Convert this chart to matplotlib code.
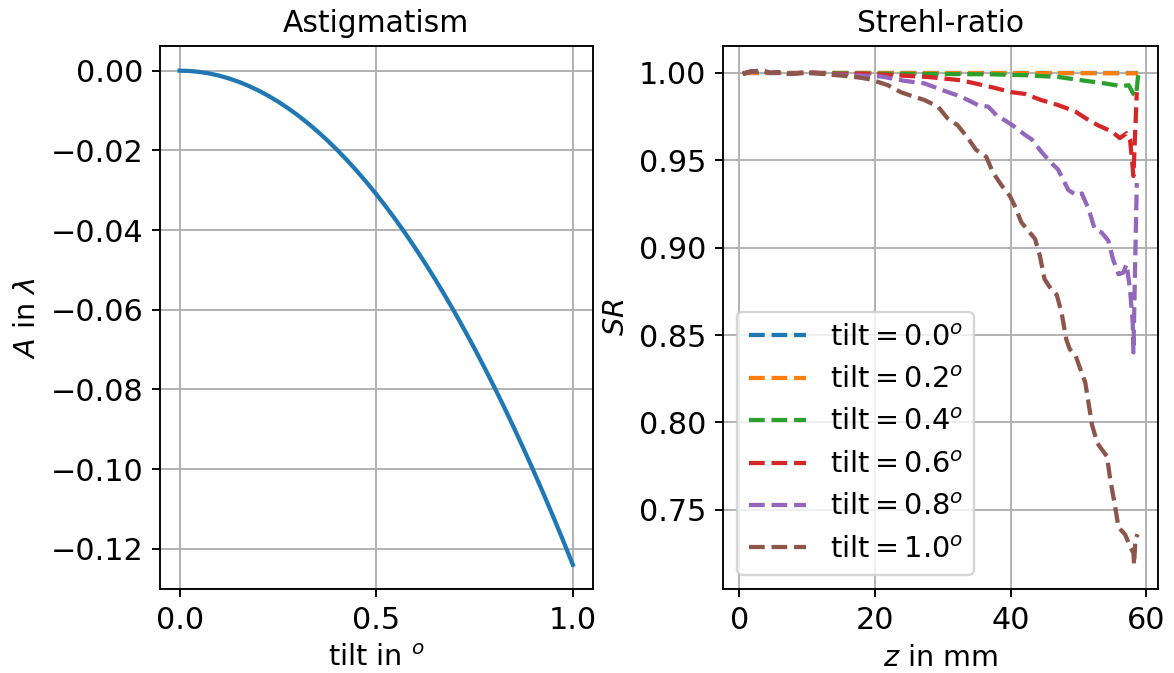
import matplotlib
matplotlib.use('Agg')
import matplotlib.pyplot as plt

# astigmatism vs tilt
tilt = [0.0, 0.025, 0.05, 0.075, 0.1, 0.125, 0.15, 0.175, 0.2, 0.225, 0.25,
        0.275, 0.3, 0.325, 0.35, 0.375, 0.4, 0.425, 0.45, 0.475, 0.5,
        0.525, 0.55, 0.575, 0.6, 0.625, 0.65, 0.675, 0.7, 0.725, 0.75,
        0.775, 0.8, 0.825, 0.85, 0.875, 0.9, 0.925, 0.95, 0.975, 1.0]
astig = [0.0, -0.00008, -0.00031, -0.0007, -0.00124, -0.00194, -0.00279,
         -0.0038, -0.00496, -0.00628, -0.00775, -0.00938, -0.01116, -0.0131,
         -0.01519, -0.01744, -0.01984, -0.0224, -0.02511, -0.02798, -0.031,
         -0.03418, -0.03751, -0.041, -0.04464, -0.04844, -0.05239, -0.0565,
         -0.06076, -0.06518, -0.06975, -0.07448, -0.07936, -0.0844, -0.08959,
         -0.09494, -0.10044, -0.1061, -0.11191, -0.11788, -0.124]

# strehl ratio vs z, one curve per tilt
z_00 = [0.5, 10, 20, 30, 40, 50, 58.8]
sr_00 = [1.0, 1.0, 1.0, 1.0, 1.0, 1.0, 1.0]

z_02 = [0.5, 10, 20, 30, 40, 50, 58.8]
sr_02 = [1.0, 1.0, 1.0, 0.9999, 0.9999, 0.9999, 0.9998]

z_04 = [0.5, 1.6, 3.4, 4.6, 6.1, 7.5, 9.0, 11.0, 13.0, 15.0, 20.0, 30.0,
        37.1, 42.1, 47.0, 51.0, 53.9, 56.4, 57.4, 58.1, 58.5, 58.8]
sr_04 = [0.9995, 1.0006, 1.0012, 1.0, 1.0004, 0.9996, 1.0, 1.0, 0.9998,
         0.9998, 0.9996, 0.9994, 0.9992, 0.9987, 0.9977, 0.9955, 0.994,
         0.9924, 0.993, 0.988, 0.987, 0.9987]

z_06 = [0.5, 1.6, 3.4, 4.6, 6.1, 7.5, 9.0, 11.0, 13.0, 15.0, 17.9, 22.9,
        27.8, 32.7, 37.6, 40.1, 42.1, 44.5, 47.0, 49.5, 51.5, 52.9, 54.9,
        56.1, 57.1, 57.6, 57.9, 58.1, 58.6]
sr_06 = [0.9995, 1.0007, 1.0012, 1.0, 1.0004, 0.9995, 1.0, 1.0002, 0.9996,
         0.9994, 0.9996, 0.9987, 0.9977, 0.9958, 0.9915, 0.989, 0.988,
         0.9845, 0.9816, 0.978, 0.973, 0.970, 0.9665, 0.9627, 0.9655,
         0.962, 0.950, 0.941, 0.989]

z_08 = [0.5, 1.6, 3.4, 4.6, 6.1, 7.5, 9.0, 11.0, 13.0, 15.0, 17.9, 20.9,
        24.3, 27.3, 30.2, 32.7, 35.2, 36.7, 38.1, 39.1, 40.3, 42.1, 43.1,
        44.5, 46.0, 47.0, 48.5, 49.7, 50.5, 51.5, 52.4, 53.4, 54.4, 55.1,
        55.9, 56.6, 57.1, 57.6, 58.0, 58.1, 58.6]
sr_08 = [0.9994, 1.0008, 1.0013, 1.0, 1.0004, 0.9994, 1.0, 1.0, 0.9993,
         0.999, 0.9985, 0.998, 0.9955, 0.994, 0.9898, 0.9864, 0.9816,
         0.9807, 0.975, 0.973, 0.970, 0.9646, 0.962, 0.955, 0.9485, 0.9447,
         0.933, 0.930, 0.931, 0.922, 0.9106, 0.9087, 0.904, 0.8933, 0.8848,
         0.8857, 0.8905, 0.876, 0.857, 0.840, 0.937]

z_10 = [0.5, 1.6, 3.4, 4.6, 6.1, 7.5, 9.0, 11.0, 13.0, 15.0, 17.4, 18.9,
        19.4, 21.9, 23.8, 25.3, 27.3, 29.3, 30.7, 32.2, 33.7, 34.9, 36.4,
        37.4, 38.6, 39.9, 40.6, 41.6, 42.6, 43.6, 44.3, 45.0, 46.0, 46.8,
        47.5, 48.2, 48.7, 49.6, 50.1, 51.0, 51.4, 52.0, 52.8, 54.2, 54.7,
        55.4, 55.9, 56.9, 57.6, 58.1, 58.2, 58.4, 58.7]
sr_10 = [0.9994, 1.0008, 1.0013, 1.0, 1.0004, 0.9994, 1.0, 0.9999, 0.9992,
         0.9985, 0.9975, 0.9966, 0.9962, 0.993, 0.989, 0.987, 0.9845,
         0.9807, 0.974, 0.970, 0.9627, 0.956, 0.952, 0.943, 0.936, 0.9295,
         0.924, 0.9144, 0.9097, 0.905, 0.8955, 0.882, 0.876, 0.873, 0.863,
         0.8476, 0.842, 0.838, 0.8324, 0.8229, 0.8133, 0.7985, 0.788,
         0.7805, 0.767, 0.752, 0.740, 0.7357, 0.729, 0.7252, 0.7185, 0.733,
         0.736]

z_series = [z_00, z_02, z_04, z_06, z_08, z_10]
sr_series = [sr_00, sr_02, sr_04, sr_06, sr_08, sr_10]
tilt_labels = ['0.0', '0.2', '0.4', '0.6', '0.8', '1.0']

plt.rcParams['font.size'] = 12.2
plt.rcParams['xtick.labelsize'] = 12.8
plt.rcParams['ytick.labelsize'] = 12.8
plt.rcParams['axes.titlesize'] = 12.6
plt.rcParams['lines.linewidth'] = 1.8

dpi = 170
fig = plt.figure(figsize=(1174 / dpi, 673 / dpi), dpi=dpi)
ax1 = fig.add_axes([0.1363, 0.1241, 0.3684, 0.8076])
ax2 = fig.add_axes([0.6158, 0.1241, 0.3705, 0.8076])

ax1.plot(tilt, astig)
ax1.set_xticks([0.0, 0.5, 1.0])
ax1.set_title('Astigmatism')
ax1.set_xlabel(r'tilt in $^o$')
ax1.set_ylabel(r'$A$ in $\lambda$')
ax1.grid(True)

for z, sr, lab in zip(z_series, sr_series, tilt_labels):
    ax2.plot(z, sr, '--', label=r'$\mathrm{tilt} = %s^o$' % lab)
ax2.set_title('Strehl-ratio')
ax2.set_xlabel(r'$z$ in mm')
ax2.set_ylabel(r'$SR$')
ax2.grid(True)
ax2.legend(loc='lower left')

fig.savefig('out.png', dpi=dpi)
